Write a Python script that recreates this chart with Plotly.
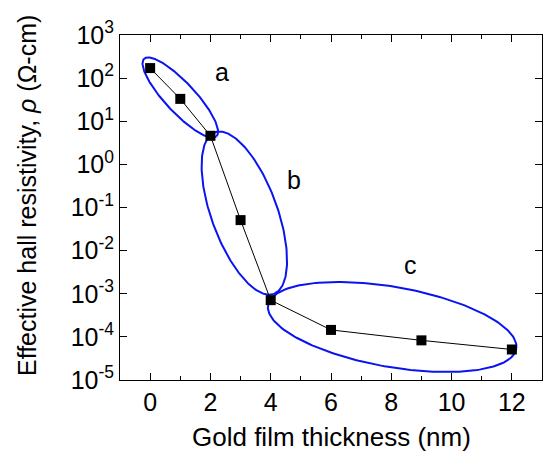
import numpy as np
import plotly.graph_objects as go

# Measured Hall resistivity vs. gold film thickness
thickness_nm = [0, 1, 2, 3, 4, 6, 9, 12]
resistivity = [171, 33, 4.6, 0.051, 7.1e-4, 1.45e-4, 8.3e-5, 5.1e-5]

y_tick_vals = [1e3, 1e2, 1e1, 1e0, 1e-1, 1e-2, 1e-3, 1e-4, 1e-5]
y_tick_text = ["10<sup>3</sup>", "10<sup>2</sup>", "10<sup>1</sup>", "10<sup>0</sup>",
               "10<sup>-1</sup>", "10<sup>-2</sup>", "10<sup>-3</sup>", "10<sup>-4</sup>",
               "10<sup>-5</sup>"]
x_tick_vals = [0, 2, 4, 6, 8, 10, 12]

# Regime groupings: label, centre (thickness, log10 rho), semi-axes (px), tilt (deg)
group_labels = ["a", "b", "c"]
group_centres = [(1.0, 1.55), (3.125, -1.13), (8.03, -3.77)]
group_axes = [(53, 15), (86, 33), (126, 40)]
group_tilt = [47, 70, 10]
label_pos = [(2.37, 2.14), (4.77, -0.36), (8.65, -2.34)]

W, H = 543, 458
M = dict(l=120, r=1, t=35, b=78)
X_RANGE = [-1, 13]
Y_RANGE = [-5, 3]
plot_w = W - M["l"] - M["r"]
plot_h = H - M["t"] - M["b"]
px_per_x = plot_w / (X_RANGE[1] - X_RANGE[0])
px_per_dec = plot_h / (Y_RANGE[1] - Y_RANGE[0])

FONT = "Liberation Sans, Arial, sans-serif"

fig = go.Figure()


def ellipse(centre, axes, tilt, n=240):
    cx, cly = centre
    a, b = axes
    th = np.deg2rad(tilt)
    t = np.linspace(0, 2 * np.pi, n)
    dx = a * np.cos(th) * np.cos(t) - b * np.sin(th) * np.sin(t)
    dy = a * np.sin(th) * np.cos(t) + b * np.cos(th) * np.sin(t)
    xs = cx + dx / px_per_x
    ys = 10 ** (cly - dy / px_per_dec)
    return xs, ys


for c, ax, tl in zip(group_centres, group_axes, group_tilt):
    ex, ey = ellipse(c, ax, tl)
    fig.add_trace(go.Scatter(x=ex, y=ey, mode="lines",
                             line=dict(color="#0a14f0", width=2),
                             hoverinfo="skip", showlegend=False))

fig.add_trace(go.Scatter(
    x=thickness_nm, y=resistivity, mode="lines+markers",
    line=dict(color="black", width=1),
    marker=dict(symbol="square", size=10, color="black"),
    showlegend=False))

for lab, (lx, ly) in zip(group_labels, label_pos):
    fig.add_annotation(x=lx, y=ly, text=lab, showarrow=False,
                       font=dict(size=25, color="black", family=FONT))

axis_common = dict(showline=True, linecolor="black", linewidth=1, mirror="ticks",
                   ticks="inside", tickcolor="black", tickwidth=1,
                   showgrid=False, zeroline=False,
                   tickfont=dict(size=25, color="black", family=FONT))

fig.update_xaxes(range=X_RANGE, tickvals=x_tick_vals, ticklen=7,
                 minor=dict(ticks="inside", ticklen=4, dtick=1, tick0=0,
                            tickcolor="black", showgrid=False),
                 **axis_common)
fig.update_yaxes(type="log", range=Y_RANGE, tickvals=y_tick_vals,
                 ticktext=y_tick_text, ticklen=7, **axis_common)

# Axis titles
fig.add_annotation(text="Gold film thickness (nm)", xref="paper", yref="paper",
                   x=0.5, y=(H - M["b"] - 437) / plot_h, xanchor="center",
                   yanchor="middle", showarrow=False,
                   font=dict(size=26, color="black", family=FONT))
fig.add_annotation(text="Effective hall resistivity, <i>ρ</i> (Ω-cm)",
                   xref="paper", yref="paper",
                   x=(27 - M["l"]) / plot_w, y=(H - M["b"] - 196) / plot_h,
                   xanchor="center", yanchor="middle", textangle=-90,
                   showarrow=False,
                   font=dict(size=25, color="black", family=FONT))

fig.update_layout(width=W, height=H, margin=M,
                  paper_bgcolor="white", plot_bgcolor="white",
                  font=dict(family=FONT, color="black"))

fig.write_html("out.html")
